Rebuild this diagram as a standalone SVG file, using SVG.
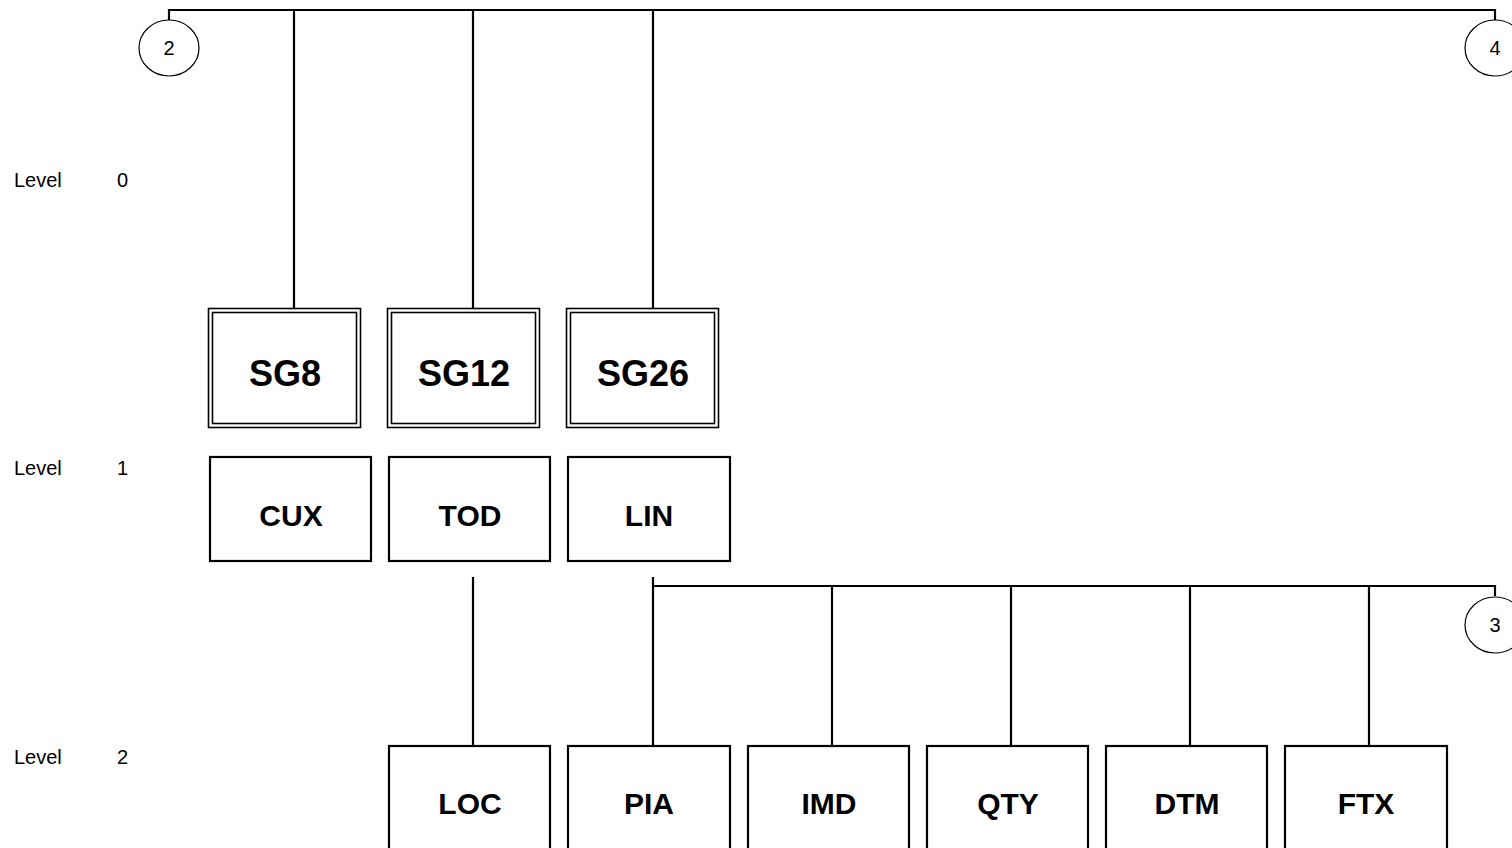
<svg xmlns="http://www.w3.org/2000/svg" width="1512" height="848" viewBox="0 0 1512 848">
<style>
.ln{stroke:#000;stroke-width:2.2;fill:none}
.box{fill:#fff;stroke:#000;stroke-width:2.2}
.dbl{fill:none;stroke:#000;stroke-width:1.6}
.t{font-family:"Liberation Sans",Arial,sans-serif;font-weight:bold;font-size:30px;text-anchor:middle;fill:#000}
.tg{font-family:"Liberation Sans",Arial,sans-serif;font-weight:bold;font-size:36px;text-anchor:middle;fill:#000}
.lv{font-family:"Liberation Sans",Arial,sans-serif;font-size:20px;fill:#000}
.cn{font-family:"Liberation Sans",Arial,sans-serif;font-size:20px;text-anchor:middle;fill:#000}
.c{fill:#fff;stroke:#000;stroke-width:1.2}
</style>
<rect width="1512" height="848" fill="#fff"/>
<g id="connectors">
<path class="ln" d="M169 20V10H1495V20"/>
<path class="ln" d="M294 10V308M473 10V308M653 10V308"/>
<path class="ln" d="M473 577V746"/>
<path class="ln" d="M653 577V746M653 586H1495V596M832 586V746M1011 586V746M1190 586V746M1369 586V746"/>
</g>
<g id="levels">
<text class="lv" x="14" y="187">Level</text><text class="lv" x="117" y="187">0</text>
<text class="lv" x="14" y="475">Level</text><text class="lv" x="117" y="475">1</text>
<text class="lv" x="14" y="764">Level</text><text class="lv" x="117" y="764">2</text>
</g>
<g id="conn2"><ellipse class="c" cx="169" cy="48" rx="30" ry="28"/><text class="cn" x="169" y="55">2</text></g>
<g id="conn4"><ellipse class="c" cx="1495" cy="48" rx="30" ry="28"/><text class="cn" x="1495" y="55">4</text></g>
<g id="conn3"><ellipse class="c" cx="1495" cy="625" rx="30" ry="28"/><text class="cn" x="1495" y="632">3</text></g>
<g id="SG8"><rect class="dbl" x="208.5" y="308.5" width="152" height="119"/><rect class="dbl" x="212.5" y="312.5" width="144" height="111"/><text class="tg" x="285" y="386">SG8</text></g>
<g id="SG12"><rect class="dbl" x="387.5" y="308.5" width="152" height="119"/><rect class="dbl" x="391.5" y="312.5" width="144" height="111"/><text class="tg" x="464" y="386">SG12</text></g>
<g id="SG26"><rect class="dbl" x="566.5" y="308.5" width="152" height="119"/><rect class="dbl" x="570.5" y="312.5" width="144" height="111"/><text class="tg" x="643" y="386">SG26</text></g>
<g id="CUX"><rect class="box" x="210" y="457" width="161" height="104"/><text class="t" x="291" y="526">CUX</text></g>
<g id="TOD"><rect class="box" x="389" y="457" width="161" height="104"/><text class="t" x="470" y="526">TOD</text></g>
<g id="LIN"><rect class="box" x="568" y="457" width="162" height="104"/><text class="t" x="649" y="526">LIN</text></g>
<g id="LOC"><rect class="box" x="389" y="746" width="161" height="110"/><text class="t" x="470" y="814">LOC</text></g>
<g id="PIA"><rect class="box" x="568" y="746" width="162" height="110"/><text class="t" x="649" y="814">PIA</text></g>
<g id="IMD"><rect class="box" x="748" y="746" width="161" height="110"/><text class="t" x="829" y="814">IMD</text></g>
<g id="QTY"><rect class="box" x="927" y="746" width="161" height="110"/><text class="t" x="1008" y="814">QTY</text></g>
<g id="DTM"><rect class="box" x="1106" y="746" width="161" height="110"/><text class="t" x="1187" y="814">DTM</text></g>
<g id="FTX"><rect class="box" x="1285" y="746" width="162" height="110"/><text class="t" x="1366" y="814">FTX</text></g>
</svg>
